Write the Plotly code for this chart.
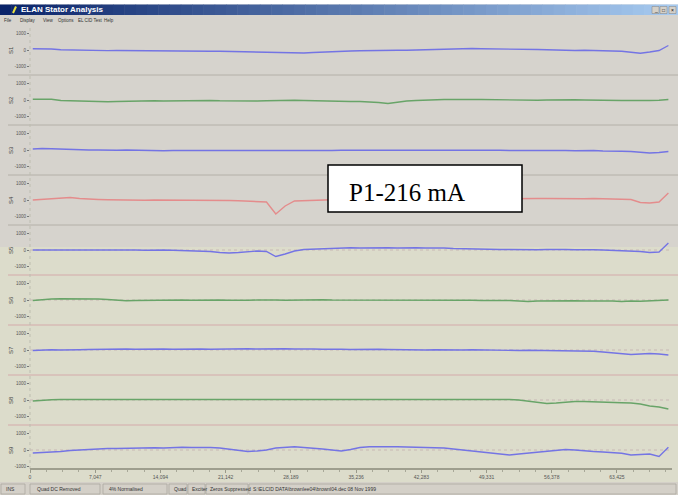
import plotly.graph_objects as go

# ---------------- data ----------------
CHANNELS = ["S1", "S2", "S3", "S4", "S5", "S6", "S7", "S8", "S9"]
X_SAMPLES = [300 + 1010 * i for i in range(69)]

CH1 = [72, 78, 60, 18, 0, -18, -30, -30, -36, -30, -30, -48, -42, -48, -54, -48, -48, -72, -66, -72,
       -78, -90, -84, -90, -96, -120, -150, -168, -180, -180, -150, -120, -90, -72, -60, -48, -30, -30, 0, -18,
       -18, 0, 18, 48, 60, 90, 108, 90, 72, 72, 60, 72, 48, 30, 30, 18, 0, -30, -30, -18,
       -30, -18, -30, -72, -132, -192, -120, -30, 270]
CH2 = [48, 60, 48, -30, -48, -60, -90, -108, -108, -90, -72, -60, -60, -48, -60, -48, -30, -30, -18, -30,
       -48, -60, -60, -72, -60, -48, -30, -30, -18, -30, -48, -60, -60, -72, -90, -90, -108, -150, -210, -120,
       -60, -30, 0, 18, 30, 30, 48, 30, 30, 18, 30, 18, 0, 0, -18, 0, 18, 30, 18, 0,
       -18, -30, -18, -30, -30, -48, -30, -18, 30]
CH3 = [60, 90, 72, 48, 30, 18, 0, 0, -18, -18, 0, -18, -30, -30, -48, -30, -30, -48, -60, -48,
       -60, -60, -48, -48, -60, -72, -60, -60, -72, -60, -48, -30, -30, -18, -18, 0, 0, 18, 0, 0,
       18, 0, 0, 18, 0, -18, 0, 0, 18, 0, -18, -30, -18, -18, -30, -30, -18, -30, -48, -30,
       -30, -60, -48, -72, -90, -150, -180, -150, -90]
CH4 = [0, 48, 90, 138, 150, 90, 48, 30, 12, 0, 0, -18, -18, 0, 0, -18, -30, -30, -18, 0,
       0, -30, -48, -60, -72, -120, -840, -360, -60, -30, 0, 18, 18, 30, 30, 18, 30, 48, 30, 30,
       48, 30, 48, 60, 48, 60, 72, 60, 60, 72, 60, 72, 90, 78, 90, 90, 78, 90, 90, 78,
       90, 90, 78, 48, 30, -150, -180, -120, 420]
CH5 = [0, -18, 0, 0, 18, 0, 0, -18, 0, 0, 18, 0, -18, 0, 0, -18, -30, -30, -60, -90,
       -150, -180, -150, -120, -60, -90, -390, -240, -60, 30, 60, 90, 120, 138, 138, 120, 138, 150, 138, 120,
       138, 138, 120, 138, 120, 90, 72, 90, 60, 48, 30, 30, 18, 30, 18, 30, 48, 30, 18, 30,
       18, 0, -18, -30, -30, -90, -150, -120, 420]
CH6 = [-30, 30, 60, 72, 78, 72, 78, 60, 30, -30, -48, -30, -18, 0, 0, 18, 0, -18, 0, 18,
       0, -18, -30, -18, 0, 18, 0, -18, 0, 18, 30, 18, 0, 0, -18, 0, 18, 0, -18, 0,
       0, 18, 0, -18, 0, 18, 0, -18, -30, -18, 0, -30, -60, -90, -60, -48, -60, -30, -48, -60,
       -48, -72, -60, -90, -60, -78, -48, -60, 0]
CH7 = [-30, 0, 18, 0, 30, 18, 30, 48, 30, 48, 60, 48, 60, 72, 60, 48, 60, 72, 60, 48,
       60, 48, 60, 72, 60, 78, 90, 72, 60, 72, 60, 48, 60, 48, 30, 48, 60, 48, 30, 18,
       30, 18, 0, 18, 0, -18, 0, 18, 0, -18, 0, -18, -30, -18, -30, -18, -30, -48, -60, -48,
       -72, -120, -180, -240, -270, -240, -210, -240, -300]
CH8 = [-60, 0, 18, 30, 30, 48, 30, 48, 60, 48, 60, 48, 60, 48, 48, 60, 48, 30, 48, 60,
       48, 48, 60, 48, 30, 48, 60, 48, 48, 60, 60, 48, 60, 72, 60, 48, 60, 48, 48, 60,
       48, 60, 48, 48, 60, 48, 30, 48, 30, 48, 30, 30, 0, -60, -150, -210, -180, -120, -90, -90,
       -120, -150, -150, -168, -180, -240, -360, -420, -540]
CH9 = [-180, -162, -150, -90, -30, 0, 60, 72, 90, 90, 108, 90, 120, 132, 120, 150, 162, 150, 162, 150,
       120, 60, 0, -90, -60, 0, 120, 180, 198, 150, 120, 60, 0, -60, 30, 150, 198, 210, 198, 198,
       180, 168, 150, 120, 120, 60, 0, -90, -150, -210, -270, -300, -240, -180, -120, -90, -30, 30, 0, -60,
       -90, -120, -150, -198, -300, -270, -240, -390, 162]

SERIES = [CH1, CH2, CH3, CH4, CH5, CH6, CH7, CH8, CH9]
XTICK_VALS = [0, 7047, 14094, 21142, 28189, 35236, 42283, 49331, 56378, 63425]
XTICK_TEXT = ["0", "7,047", "14,094", "21,142", "28,189", "35,236", "42,283", "49,331", "56,378", "63,425"]
YTICK_VALS = [-1000, 0, 1000]
YTICK_TEXT = ["-1000", "0", "1000"]
TITLE = "ELAN Stator Analysis"
MENU = ["File", "Display", "View", "Options", "EL CID Test", "Help"]
STATUS = ["INS", "Quad DC Removed", "4% Normalised", "Quad", "Exciter", "Zeros Suppressed",
          "S:\\ELCID DATA\\brownlee04\\brownl04.dec 08 Nov 1999"]
NOTE = "P1-216 mA"

# ---------------- style / layout ----------------
W, H = 678, 495
L, R, T, B = 30, 6, 25, 20
PW, PH = W - L - R, H - T - B
BLUE, GREEN, RED = "#7474e4", "#68a468", "#e48c8c"
COLORS = [BLUE, GREEN, BLUE, RED, BLUE, GREEN, BLUE, GREEN, BLUE]
GRAY_BG = "#d6d3cd"
BEIGE_BG = "#dcdccb"
FONT = "Liberation Sans"


def px(p):
    return (p - L) / PW


def py(p):
    return (T + PH - p) / PH


fig = go.Figure()
n = len(SERIES)
for k, (vals, col) in enumerate(zip(SERIES, COLORS), start=1):
    fig.add_trace(go.Scatter(x=X_SAMPLES, y=vals, mode="lines",
                             line=dict(color=col, width=1.4),
                             xaxis="x", yaxis="y" if k == 1 else f"y{k}",
                             showlegend=False, hoverinfo="skip"))

layout = dict(
    width=W, height=H, autosize=False,
    margin=dict(l=L, r=R, t=T, b=B, pad=0),
    paper_bgcolor=GRAY_BG, plot_bgcolor="rgba(0,0,0,0)",
    showlegend=False,
    xaxis=dict(range=[0, 69370], anchor="free", position=py(469),
               tickmode="array", tickvals=XTICK_VALS, ticktext=XTICK_TEXT,
               tickfont=dict(family=FONT, size=5, color="#555"),
               ticks="outside", ticklen=3, tickcolor="#9a9a8a", tickwidth=1,
               minor=dict(dtick=7047 / 4, tick0=0, ticks="outside", ticklen=2, tickcolor="#a8a898"),
               showline=True, linecolor="#9e9e8e", linewidth=2,
               showgrid=False, zeroline=False, fixedrange=True),
)
for k in range(1, n + 1):
    top = T + 50 * (k - 1)
    bot = T + 50 * k
    key = "yaxis" if k == 1 else f"yaxis{k}"
    layout[key] = dict(domain=[py(bot), py(top)], anchor="x", range=[-1500, 1500],
                       tickmode="array", tickvals=YTICK_VALS, ticktext=YTICK_TEXT,
                       tickfont=dict(family=FONT, size=4.5, color="#555"),
                       ticks="outside", ticklen=2, tickcolor="#777",
                       showgrid=False, zeroline=False, showline=False, fixedrange=True)
fig.update_layout(**layout)

shapes = []
# beige lower region
shapes.append(dict(type="rect", xref="paper", yref="paper", x0=px(0), x1=px(W), y0=py(482), y1=py(247),
                   fillcolor=BEIGE_BG, line=dict(width=0), layer="below"))
# row dividers
for k in range(1, n):
    yy = T + 50 * k
    col = "#b4b0a8" if yy < 247 else "#d4aaaa"
    shapes.append(dict(type="line", xref="paper", yref="paper", x0=px(8), x1=px(W), y0=py(yy), y1=py(yy),
                       line=dict(color=col, width=1), layer="below"))
# dotted zero reference lines (lower rows)
for k in range(5, n + 1):
    shapes.append(dict(type="line", xref="x domain", yref=f"y{k}",
                       x0=0, x1=1, y0=0, y1=0, line=dict(color="#c8b8b4", width=1, dash="dot"), layer="below"))
# dotted y-axis line
shapes.append(dict(type="line", xref="paper", yref="paper", x0=0, x1=0, y0=py(469), y1=py(T),
                   line=dict(color="#bdbdb0", width=1, dash="dot"), layer="below"))
# white strip on top
shapes.append(dict(type="rect", xref="paper", yref="paper", x0=px(0), x1=px(W), y0=py(4.5), y1=py(0),
                   fillcolor="white", line=dict(width=0), layer="below"))
# title bar gradient
c0, c1 = (10, 36, 106), (166, 202, 240)
NS = 60
for i in range(NS):
    f = i / (NS - 1)
    c = tuple(round(a + (b - a) * f) for a, b in zip(c0, c1))
    shapes.append(dict(type="rect", xref="paper", yref="paper",
                       x0=px(W * i / NS), x1=px(W * (i + 1) / NS + 0.5), y0=py(15), y1=py(4.5),
                       fillcolor=f"rgb{c}", line=dict(width=0), layer="below"))
# title bar buttons
for bx in (652, 660, 669):
    shapes.append(dict(type="rect", xref="paper", yref="paper", x0=px(bx), x1=px(bx + 7), y0=py(13.5), y1=py(6.5),
                       fillcolor="#d4d0c8", line=dict(color="#808080", width=0.5), layer="above"))
# icon
shapes.append(dict(type="line", xref="paper", yref="paper", x0=px(13), x1=px(16), y0=py(13), y1=py(6.5),
                   line=dict(color="#e8e040", width=2), layer="above"))
# status bar
shapes.append(dict(type="rect", xref="paper", yref="paper", x0=px(0), x1=px(W), y0=py(H), y1=py(482),
                   fillcolor="#d4d0c8", line=dict(width=0), layer="below"))
for a, b in [(1, 25), (30, 100), (103, 167), (169, 187), (188, 205), (206, 248), (249, 676)]:
    shapes.append(dict(type="rect", xref="paper", yref="paper", x0=px(a), x1=px(b), y0=py(494), y1=py(484),
                       fillcolor="rgba(0,0,0,0)", line=dict(color="#a8a49c", width=0.7), layer="below"))
# note box
shapes.append(dict(type="rect", xref="paper", yref="paper", x0=px(328), x1=px(522), y0=py(212), y1=py(165),
                   fillcolor="white", line=dict(color="black", width=1.5), layer="above"))
fig.update_layout(shapes=shapes)

ann = []
ann.append(dict(text=TITLE, xref="paper", yref="paper", x=px(19), y=py(10), xanchor="left", yanchor="middle",
                showarrow=False, font=dict(family=FONT, size=8, color="white", weight="bold")))
for g, bx in zip(["_", "□", "×"], (652, 660, 669)):
    ann.append(dict(text=g, xref="paper", yref="paper", x=px(bx + 3.5), y=py(10), xanchor="center",
                    yanchor="middle", showarrow=False, font=dict(family=FONT, size=5, color="black")))
for m, mx in zip(MENU, [2, 18, 41, 56, 76, 102]):
    ann.append(dict(text=m, xref="paper", yref="paper", x=px(mx), y=py(20), xanchor="left", yanchor="middle",
                    showarrow=False, font=dict(family=FONT, size=4.5, color="#333")))
for s, sx in zip(STATUS, [4, 35, 107, 172, 190, 208, 251]):
    ann.append(dict(text=s, xref="paper", yref="paper", x=px(sx), y=py(489), xanchor="left", yanchor="middle",
                    showarrow=False, font=dict(family=FONT, size=5, color="#333")))
for k, name in enumerate(CHANNELS, start=1):
    ann.append(dict(text=name, xref="paper", yref="paper", x=px(11), y=py(T + 50 * k - 25), xanchor="center",
                    yanchor="middle", textangle=-90, showarrow=False,
                    font=dict(family=FONT, size=6, color="#444")))
ann.append(dict(text=NOTE, xref="paper", yref="paper", x=px(347), y=py(193), xanchor="left", yanchor="middle",
                showarrow=False, font=dict(family="Liberation Serif", size=25, color="black")))
fig.update_layout(annotations=ann)

fig.write_html("out.html", config={"displayModeBar": False},
               post_script="document.body.style.margin='0';")
